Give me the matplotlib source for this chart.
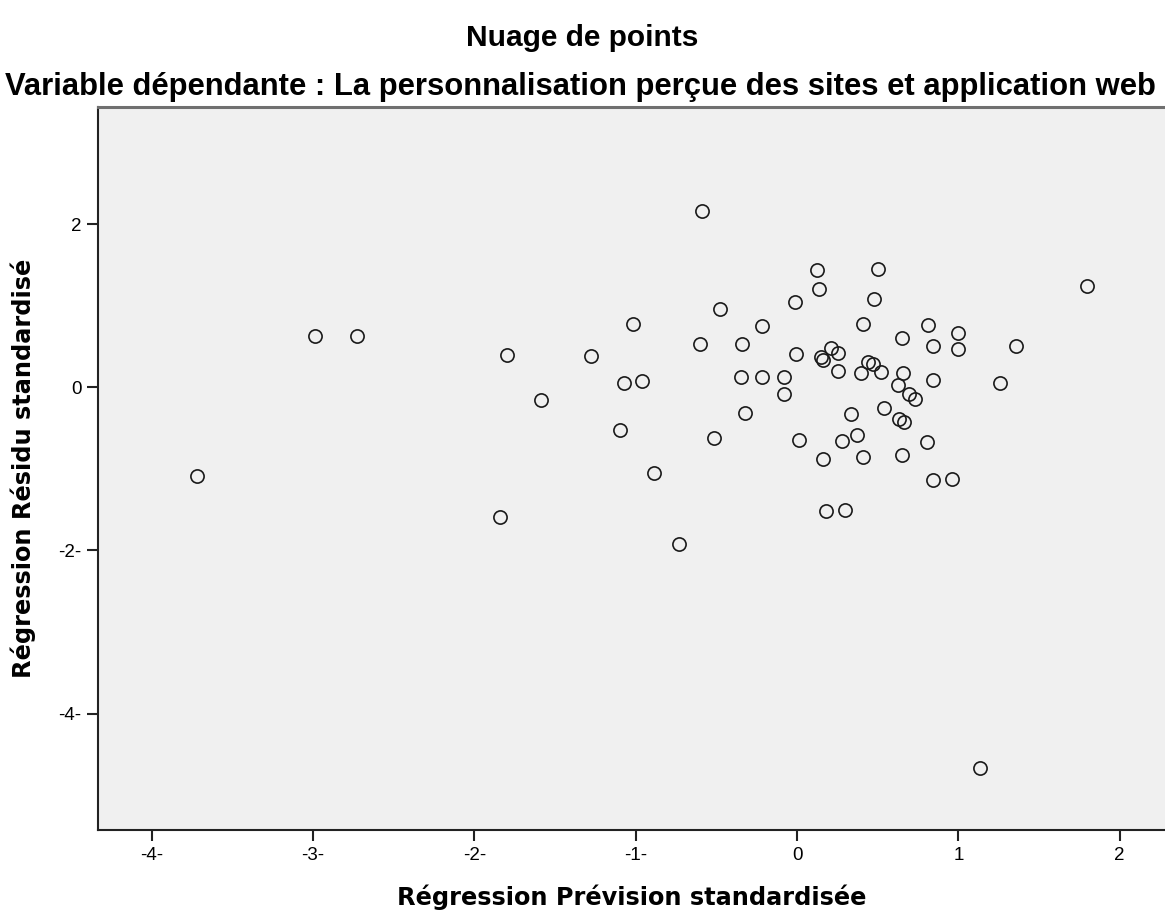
import matplotlib
matplotlib.use("Agg")
import matplotlib.pyplot as plt

# standardised predicted value (x) and standardised residual (y)
pred = [-3.72, -2.99, -2.73, -1.84, -1.80, -1.585, -1.28, -1.095, -1.07, -1.015,
        -0.96, -0.89, -0.733, -0.59, -0.60, -0.513, -0.475, -0.345, -0.341, -0.322,
        -0.219, -0.219, -0.079, -0.083, -0.01, -0.004, 0.014, 0.126, 0.138, 0.147,
        0.163, 0.161, 0.182, 0.213, 0.256, 0.256, 0.28, 0.298, 0.335, 0.37,
        0.398, 0.407, 0.409, 0.44, 0.472, 0.479, 0.50, 0.523, 0.541, 0.624,
        0.634, 0.651, 0.653, 0.659, 0.663, 0.696, 0.73, 0.806, 0.81, 0.843,
        0.843, 0.845, 0.963, 0.996, 0.996, 1.137, 1.258, 1.358, 1.80]
resid = [-1.09, 0.63, 0.63, -1.59, 0.40, -0.16, 0.38, -0.52, 0.05, 0.78,
         0.08, -1.05, -1.92, 2.16, 0.53, -0.625, 0.96, 0.13, 0.53, -0.32,
         0.75, 0.13, 0.12, -0.08, 1.04, 0.41, -0.65, 1.44, 1.21, 0.375,
         0.34, -0.875, -1.52, 0.48, 0.42, 0.20, -0.66, -1.50, -0.33, -0.585,
         0.18, -0.85, 0.78, 0.31, 0.28, 1.08, 1.45, 0.19, -0.25, 0.025,
         -0.39, -0.83, 0.60, 0.18, -0.43, -0.08, -0.14, -0.67, 0.76, 0.50,
         0.09, -1.14, -1.12, 0.67, 0.465, -4.67, 0.05, 0.51, 1.24]

x_ticks = [-4, -3, -2, -1, 0, 1, 2]
x_labels = ["-4-", "-3-", "-2-", "-1-", "0", "1", "2"]
y_ticks = [2, 0, -2, -4]
y_labels = ["2", "0", "-2-", "-4-"]

fig = plt.figure(figsize=(11.65, 9.18), dpi=100)
ax = fig.add_axes([0.0844, 0.0959, 0.9156, 0.7872])
ax.set_facecolor("#f0f0f0")

ax.plot(pred, resid, linestyle="none", marker="o", markersize=9.5,
        markerfacecolor="none", markeredgecolor="#1a1a1a", markeredgewidth=1.2)

ax.set_xlim(-4.332, 2.281)
ax.set_ylim(-5.425, 3.431)
ax.set_xticks(x_ticks)
ax.set_xticklabels(x_labels, fontsize=13.5, family="Liberation Sans")
ax.set_yticks(y_ticks)
ax.set_yticklabels(y_labels, fontsize=13.5, family="Liberation Sans")
ax.tick_params(direction="out", length=8, width=1.5, color="#222222", pad=4)

for side in ["left", "bottom"]:
    ax.spines[side].set_linewidth(1.5)
    ax.spines[side].set_color("#222222")
ax.spines["right"].set_visible(False)
ax.spines["top"].set_color("#707070")
ax.spines["top"].set_linewidth(2.2)

ax.set_xlabel("Régression Prévision standardisée", fontsize=17.3,
              fontweight="bold", family="DejaVu Sans", labelpad=15)
ax.set_ylabel("Régression Résidu standardisé", fontsize=17.3,
              fontweight="bold", family="DejaVu Sans", labelpad=16)

fig.text(0.5, 1 - 46 / 918, "Nuage de points", ha="center", va="baseline",
         fontsize=21.5, fontweight="bold", family="Liberation Sans")
fig.text(0.498, 1 - 95 / 918,
         "Variable dépendante : La personnalisation perçue des sites et application web",
         ha="center", va="baseline", fontsize=22.3, fontweight="bold",
         family="Liberation Sans")

fig.savefig("out.png", dpi=100)
